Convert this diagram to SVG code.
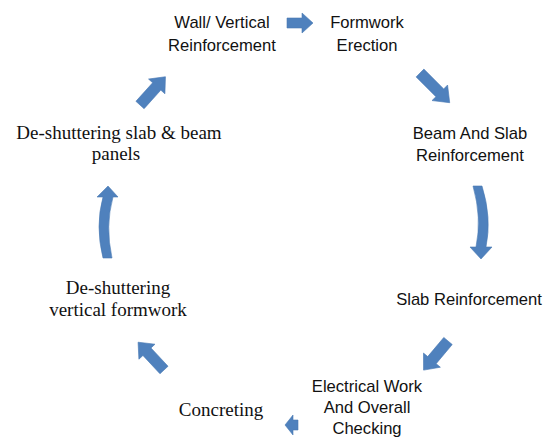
<svg xmlns="http://www.w3.org/2000/svg" width="559" height="439" viewBox="0 0 559 439">
<style>
.s{font-family:"Liberation Sans",Arial,sans-serif;font-size:16.6px;fill:#111111;text-anchor:middle}
.r{font-family:"Liberation Serif","Times New Roman",serif;font-size:19px;fill:#111111;text-anchor:middle}
.a{fill:#4f81bd;stroke:#4a7ab4;stroke-width:0.6}
</style>
<rect width="559" height="439" fill="#ffffff"/>
<g id="connectors">
<path class="a" transform="translate(287,23)" d="M0,-5 H15 V-10 L26,0 L15,10 V5 H0 Z"/>
<path class="a" transform="translate(420,73) rotate(45)" d="M0,-5.5 H28 V-11 L42,0 L28,11 V5.5 H0 Z"/>
<path class="a" d="M482,186 Q492,218 486,247 L492,247 L481,259 L470,247 L476,247 Q482,218 473,186 Z"/>
<path class="a" transform="translate(448,341) rotate(130)" d="M0,-5.5 H25 V-11 L38,0 L25,11 V5.5 H0 Z"/>
<path class="a" transform="translate(298,425) rotate(180)" d="M0,-5 H5 V-10 L13,0 L5,10 V5 H0 Z"/>
<path class="a" transform="translate(164,370) rotate(-133)" d="M0,-5.5 H25 V-11 L38,0 L25,11 V5.5 H0 Z"/>
<path class="a" d="M108,186 L118,197 L113,197 Q105,226 112,258 L103,258 Q95,226 103,197 L97,197 Z"/>
<path class="a" transform="translate(140,105) rotate(-48)" d="M0,-5.5 H25 V-11 L38,0 L25,11 V5.5 H0 Z"/>
</g>
<g id="wall"><text class="s" x="222" y="28">Wall/ Vertical</text><text class="s" x="222" y="51">Reinforcement</text></g>
<g id="formwork"><text class="s" x="367" y="28">Formwork</text><text class="s" x="367" y="51">Erection</text></g>
<g id="beam"><text class="s" x="470" y="139">Beam And Slab</text><text class="s" x="470" y="161">Reinforcement</text></g>
<g id="slab"><text class="s" x="469" y="305">Slab Reinforcement</text></g>
<g id="electrical"><text class="s" x="367" y="392">Electrical Work</text><text class="s" x="367" y="413">And Overall</text><text class="s" x="367" y="434">Checking</text></g>
<g id="concreting"><text class="r" x="221" y="416">Concreting</text></g>
<g id="deshutter-vertical"><text class="r" x="118" y="294">De-shuttering</text><text class="r" x="118" y="316">vertical formwork</text></g>
<g id="deshutter-slab"><text class="r" x="119" y="139">De-shuttering slab &amp; beam</text><text class="r" x="116" y="160">panels</text></g>
</svg>
